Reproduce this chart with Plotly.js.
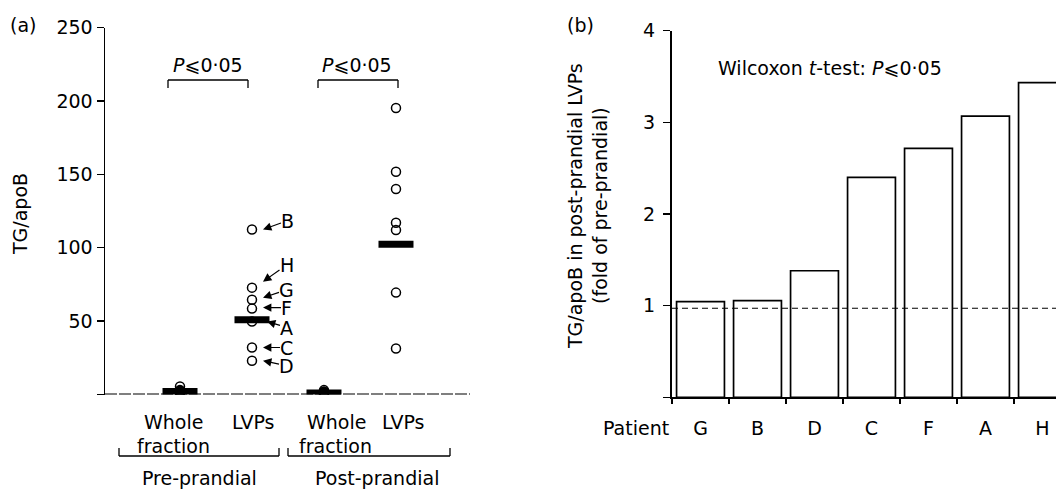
<!DOCTYPE html>
<html><head><meta charset="utf-8">
<script src="https://cdn.plot.ly/plotly-3.0.1.min.js"></script>
<style>html,body{margin:0;padding:0;background:#fff}#chart{width:1056px;height:489px}</style>
</head><body><div id="chart"></div>
<script>
// ---- Panel (a) data ----
const groupIndex = [1, 2, 3, 4]; // Pre whole, Pre LVPs, Post whole, Post LVPs
const preWhole = [5.5, 3, 2.5, 2, 1.5, 1, 1];
const preLVP = [112.4, 72.8, 64.6, 58.5, 49.7, 32, 23];
const preLVPLabels = ['B', 'H', 'G', 'F', 'A', 'C', 'D'];
const postWhole = [3, 2, 1.5, 1, 1, 0.5, 0.5];
const postLVP = [195.2, 151.7, 140, 117, 112, 69.4, 31.3];
const groupMedians = [2, 51, 1, 102.4];
const yTicksA = [0, 50, 100, 150, 200, 250];
const yTickTextA = ['', '50', '100', '150', '200', '250'];
const pLabel = '<i>P</i>⩽0·05';

// ---- Panel (b) data ----
const patients = ['G', 'B', 'D', 'C', 'F', 'A', 'H'];
const foldChange = [1.043, 1.054, 1.381, 2.40, 2.717, 3.069, 3.433];
const referenceFold = 0.971;
const yTicksB = [0, 1, 2, 3, 4];
const yTickTextB = ['', '1', '2', '3', '4'];

const W = 1056, H = 489;
const X = px => px / W;
const Y = py => 1 - py / H;
const FONT = 'DejaVu Sans';
const fs = 19;

const rep = (v, n) => Array(n).fill(v);

const circ = {symbol: 'circle-open', size: 9, color: '#000', line: {width: 1.5, color: '#000'}};

const traces = [
  {x: rep(groupIndex[0], preWhole.length), y: preWhole, type: 'scatter', mode: 'markers', marker: circ, xaxis: 'x', yaxis: 'y'},
  {x: rep(groupIndex[1], preLVP.length), y: preLVP, type: 'scatter', mode: 'markers', marker: circ, xaxis: 'x', yaxis: 'y'},
  {x: rep(groupIndex[2], postWhole.length), y: postWhole, type: 'scatter', mode: 'markers', marker: circ, xaxis: 'x', yaxis: 'y'},
  {x: rep(groupIndex[3], postLVP.length), y: postLVP, type: 'scatter', mode: 'markers', marker: circ, xaxis: 'x', yaxis: 'y'},
  {x: groupIndex, y: groupMedians, type: 'scatter', mode: 'markers', xaxis: 'x', yaxis: 'y',
   marker: {symbol: 'line-ew-open', size: 25, color: '#000', line: {width: 7, color: '#000'}}},
  {x: patients, y: foldChange, type: 'bar', xaxis: 'x2', yaxis: 'y2', width: 0.84,
   marker: {color: 'rgba(255,255,255,0)', line: {color: '#000', width: 1.7}}}
];

// arrow label offsets (pixels)
const arrowCfg = {
  B: {xs: 11, ys: 0, ax: 25, ay: -9},
  H: {xs: 11, ys: 6, ax: 24, ay: -17},
  G: {xs: 11, ys: 2, ax: 24, ay: -8},
  F: {xs: 11, ys: 1, ax: 24, ay: 0},
  A: {xs: 15, ys: 0, ax: 20, ay: 6},
  C: {xs: 11, ys: 0, ax: 24, ay: 0},
  D: {xs: 11, ys: 0, ax: 24, ay: 5}
};

const ann = [];
preLVPLabels.forEach((lab, i) => {
  const c = arrowCfg[lab];
  ann.push({x: groupIndex[1], y: preLVP[i], xref: 'x', yref: 'y', xshift: c.xs, yshift: c.ys,
    text: lab, showarrow: true, ax: c.ax, ay: c.ay, arrowhead: 2, arrowsize: 1.4, arrowwidth: 1.2,
    arrowcolor: '#000', standoff: 0, borderpad: 0, font: {family: FONT, size: fs, color: '#000'}});
});

function txt(text, px, py, opts = {}) {
  ann.push(Object.assign({x: X(px), y: Y(py), xref: 'paper', yref: 'paper', text: text, showarrow: false,
    xanchor: 'center', yanchor: 'middle', font: {family: FONT, size: fs, color: '#000'}}, opts));
}
txt('(a)', 23, 25);
txt('(b)', 580, 25);
txt('TG/apoB', 20, 214, {textangle: -90});
txt(pLabel, 208, 65);
txt(pLabel, 357, 65);
txt('Whole', 173, 422);
txt('fraction', 173, 446);
txt('LVPs', 253, 422);
txt('Whole', 336, 422);
txt('fraction', 335, 446);
txt('LVPs', 403, 422);
txt('Pre-prandial', 199, 478);
txt('Post-prandial', 377, 478);
txt('TG/apoB in post-prandial LVPs<br>(fold of pre-prandial)', 588, 206, {textangle: -90});
txt('Wilcoxon <i>t</i>-test: ' + pLabel, 830, 68);
txt('Patient', 636, 428);

const shapes = [];
function seg(x0, y0, x1, y1, w = 1.3, dash = 'solid') {
  shapes.push({type: 'line', xref: 'paper', yref: 'paper', x0: X(x0), y0: Y(y0), x1: X(x1), y1: Y(y1),
    line: {color: '#000', width: w, dash: dash}});
}
// significance brackets
[[168, 248], [318, 398]].forEach(([a, b]) => { seg(a, 80, b, 80); seg(a, 80, a, 88); seg(b, 80, b, 88); });
// bottom group brackets
[[119, 279], [288, 450]].forEach(([a, b]) => { seg(a, 456, b, 456); seg(a, 456, a, 448); seg(b, 456, b, 448); });
// left baseline
shapes.push({type: 'line', xref: 'x', yref: 'y', x0: -0.0417, x1: 5.028, y0: 0, y1: 0,
  line: {color: '#000', width: 1.8, dash: '12px,2px'}});
// reference line panel b
shapes.push({type: 'line', xref: 'x2', yref: 'y2', x0: -0.5, x1: 6.237, y0: referenceFold, y1: referenceFold,
  line: {color: '#000', width: 1.1, dash: '6px,4px'}, layer: 'above'});

const layout = {
  width: W, height: H, margin: {l: 0, r: 0, t: 0, b: 0}, showlegend: false,
  paper_bgcolor: '#fff', plot_bgcolor: 'rgba(0,0,0,0)',
  font: {family: FONT, size: fs, color: '#000'},
  xaxis: {domain: [X(105), X(470)], range: [-0.0417, 5.028], showgrid: false, zeroline: false,
    showline: false, showticklabels: false, ticks: '', fixedrange: true},
  yaxis: {domain: [Y(394.5), Y(27.5)], range: [0, 250], showgrid: false, zeroline: false,
    showline: true, linewidth: 1.5, linecolor: '#000', ticks: 'outside', ticklen: 7, tickwidth: 1.4,
    tickcolor: '#000', tickvals: yTicksA, ticktext: yTickTextA, ticklabelstandoff: 0,
    tickfont: {family: FONT, size: fs}, anchor: 'x'},
  xaxis2: {domain: [X(672), 1], range: [-0.5, 6.237], type: 'category', showgrid: false, zeroline: false,
    showline: true, linewidth: 2, linecolor: '#000', ticks: 'outside', tickson: 'boundaries', ticklen: 5,
    tickwidth: 1.3, tickcolor: '#000', ticklabelstandoff: 13, tickfont: {family: FONT, size: fs}, anchor: 'y2'},
  yaxis2: {domain: [Y(397.3), Y(30.7)], range: [0, 4], showgrid: false, zeroline: false,
    showline: true, linewidth: 2, linecolor: '#000', ticks: 'outside', ticklen: 7, tickwidth: 1.3,
    tickcolor: '#000', tickvals: yTicksB, ticktext: yTickTextB, ticklabelstandoff: 4,
    tickfont: {family: FONT, size: fs}, anchor: 'x2'},
  annotations: ann,
  shapes: shapes
};

Plotly.newPlot('chart', traces, layout, {staticPlot: true, displayModeBar: false});
</script></body></html>
